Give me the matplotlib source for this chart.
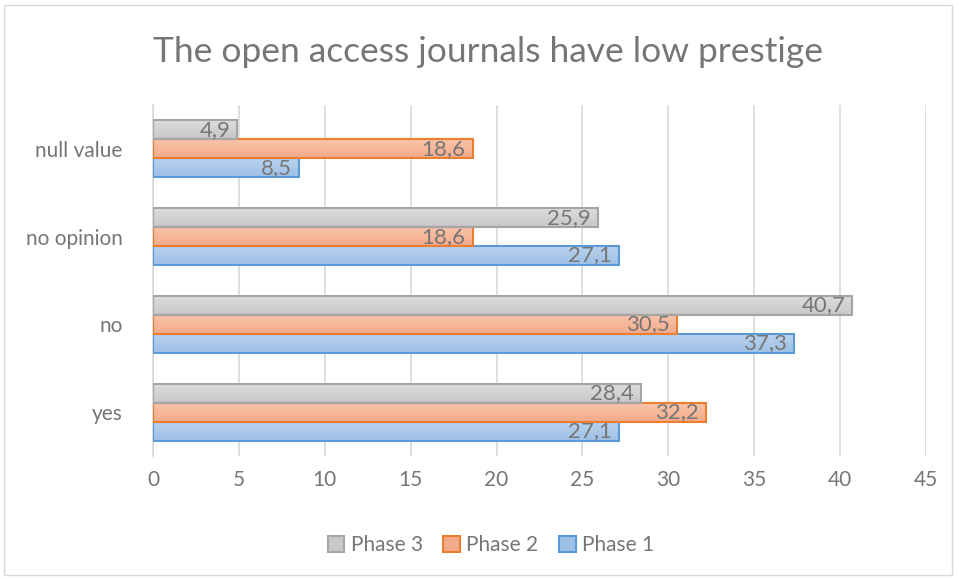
import numpy as np
import matplotlib.pyplot as plt
from matplotlib.patches import Rectangle
from matplotlib.colors import LinearSegmentedColormap

plt.rcParams['font.family'] = ['Lato', 'DejaVu Sans']

# survey answers
categories = ['yes', 'no', 'no opinion', 'null value']
phase1 = [27.1, 37.3, 27.1, 8.5]
phase2 = [32.2, 30.5, 18.6, 18.6]
phase3 = [28.4, 40.7, 25.9, 4.9]

# name, values, gradient top, gradient bottom, edge
series = [
    ('Phase 1', phase1, '#b9d3ee', '#9dc0e6', '#5b9bd5'),
    ('Phase 2', phase2, '#f8c4ab', '#f3aa88', '#ed7d31'),
    ('Phase 3', phase3, '#dcdcdc', '#c8c8c8', '#a5a5a5'),
]

fig = plt.figure(figsize=(9.59, 5.79), dpi=100)
ax = fig.add_axes([153/959, 1-456/579, (926-153)/959, (456-105)/579])

# outer chart frame
fig.patches.append(Rectangle((4/959, 4/579), 948/959, 570/579, transform=fig.transFigure,
                             fill=False, edgecolor='#d9d9d9', lw=1))

y = np.arange(len(categories))
h = 0.216
txt_col = '#767676'
grad = np.linspace(0, 1, 64).reshape(-1, 1)
handles = []
for i, (name, vals, c_top, c_bot, ec) in enumerate(series):
    pos = y + (i - 1) * h
    cmap = LinearSegmentedColormap.from_list(name, [c_top, c_bot])
    bars = ax.barh(pos, vals, height=h, color=c_bot, edgecolor=ec, linewidth=1.5, label=name, zorder=3)
    handles.append(bars)
    for b, v in zip(bars, vals):
        b.set_facecolor('none')
        y0, y1 = b.get_y(), b.get_y() + b.get_height()
        im = ax.imshow(grad, cmap=cmap, aspect='auto', extent=(0, v, y0, y1), origin='upper', zorder=2.9)
        im.set_clip_path(b)
        ax.text(v - 0.4, (y0 + y1)/2, ('%.1f' % v).replace('.', ','),
                ha='right', va='center', fontsize=16, color=txt_col, zorder=4)

ax.set_xlim(0, 45)
ax.set_xticks(range(0, 46, 5))
ax.set_ylim(-0.5, 3.5)
ax.set_yticks(y)
ax.set_yticklabels(categories)
ax.tick_params(axis='both', length=0, labelsize=15, labelcolor=txt_col)
ax.tick_params(axis='x', pad=10)
ax.tick_params(axis='y', pad=22)
ax.grid(axis='x', color='#d9d9d9', lw=1.2, zorder=0)
for s in ['top', 'right', 'bottom']:
    ax.spines[s].set_visible(False)
ax.spines['left'].set_color('#d9d9d9')
ax.spines['left'].set_linewidth(1.2)

fig.text(488/959, 1-52/579, 'The open access journals have low prestige', ha='center', va='center',
         fontsize=25.5, color=txt_col)

# legend patches in plain colours
proxies = [Rectangle((0, 0), 1, 1, facecolor=s[3], edgecolor=s[4], lw=1.5) for s in series]
fig.legend(proxies[::-1], [s[0] for s in series][::-1], loc='center', bbox_to_anchor=(491/959, 1-545/579),
           ncol=3, frameon=False, fontsize=15, labelcolor=txt_col, handlelength=0.8, handleheight=0.8,
           handletextpad=0.3, columnspacing=1.0)

fig.savefig('out.png', dpi=100)
